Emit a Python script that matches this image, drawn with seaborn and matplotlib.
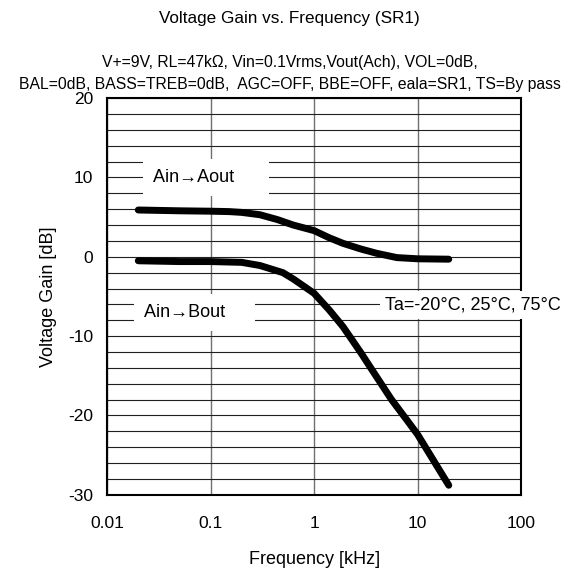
import numpy as np
import pandas as pd
import matplotlib
matplotlib.use("Agg")
import matplotlib.pyplot as plt
import seaborn as sns

sns.set_style("white")
plt.rcParams['font.family'] = ['Liberation Sans', 'DejaVu Sans']
plt.rcParams['axes.unicode_minus'] = False
plt.rcParams['text.color'] = 'black'
plt.rcParams['axes.labelcolor'] = 'black'
plt.rcParams['xtick.color'] = 'black'
plt.rcParams['ytick.color'] = 'black'

# values
freq_aout = [0.02, 0.05, 0.1, 0.15, 0.2, 0.3, 0.44, 0.63, 1.0, 1.4, 1.9, 2.8, 4.0, 6.3, 10, 20]
gain_aout = [5.9, 5.8, 5.75, 5.7, 5.6, 5.3, 4.7, 4.0, 3.3, 2.4, 1.7, 1.0, 0.45, -0.1, -0.25, -0.3]
freq_bout = [0.02, 0.05, 0.1, 0.2, 0.3, 0.5, 0.63, 1.0, 1.4, 1.9, 2.8, 4.0, 5.6, 7.9, 10, 20]
gain_bout = [-0.5, -0.6, -0.6, -0.7, -1.1, -2.0, -2.8, -4.6, -6.7, -8.8, -12.0, -15.1, -18.0, -20.6, -22.4, -28.8]

x_ticks = [0.01, 0.1, 1, 10, 100]
x_labels = ['0.01', '0.1', '1', '10', '100']
y_ticks = [-30, -20, -10, 0, 10, 20]

df = pd.concat([
    pd.DataFrame({'freq': freq_aout, 'gain': gain_aout, 'path': 'Ain→Aout'}),
    pd.DataFrame({'freq': freq_bout, 'gain': gain_bout, 'path': 'Ain→Bout'}),
])

fig = plt.figure(figsize=(5.79, 5.74), dpi=100)
ax = fig.add_axes([0.185, 0.138, 0.715, 0.691])

sns.lineplot(data=df, x='freq', y='gain', units='path', estimator=None,
             color='black', lw=5.0, ax=ax, legend=False, zorder=5)

ax.set_xscale('log')
ax.set_xlim(0.01, 100)
ax.set_ylim(-30, 20)
ax.set_xticks(x_ticks)
ax.set_xticklabels(x_labels)
ax.xaxis.set_minor_locator(matplotlib.ticker.NullLocator())
ax.set_yticks(y_ticks)
ax.set_yticks(np.arange(-30, 21, 2), minor=True)
ax.tick_params(axis='both', which='both', length=0, labelsize=12.5)
ax.tick_params(axis='x', pad=15)
ax.tick_params(axis='y', pad=10)

ax.grid(True, axis='y', which='both', color='#202020', lw=0.8)
ax.grid(True, axis='x', which='major', color='#707070', lw=1.0)
ax.set_axisbelow(True)
for s in ax.spines.values():
    s.set_color('black')
    s.set_linewidth(1.5)
    s.set_zorder(3)

ax.set_xlabel('Frequency [kHz]', fontsize=13, labelpad=15)
ax.set_ylabel('Voltage Gain [dB]', fontsize=13, labelpad=8)

box = dict(facecolor='white', edgecolor='none', boxstyle='square,pad=0.55')
ax.text(0.09, 10, 'Ain→Aout     ', fontsize=13, ha='center', va='center', bbox=box, zorder=4)
ax.text(0.07, -7, 'Ain→Bout    ', fontsize=13, ha='center', va='center', bbox=box, zorder=4)
ax.text(4.85, -6.1, 'Ta=-20°C, 25°C, 75°C', fontsize=13, ha='left', va='center',
        bbox=dict(facecolor='white', edgecolor='none', boxstyle='square,pad=0.3'),
        zorder=4, clip_on=False)

fig.text(0.5, 1 - 18 / 574, 'Voltage Gain vs. Frequency (SR1)', fontsize=12.3,
         ha='center', va='center')
fig.text(0.5, 1 - 62 / 574, 'V+=9V, RL=47kΩ, Vin=0.1Vrms,Vout(Ach), VOL=0dB,',
         fontsize=11.3, ha='center', va='center')
fig.text(0.5, 1 - 84 / 574, 'BAL=0dB, BASS=TREB=0dB,  AGC=OFF, BBE=OFF, eala=SR1, TS=By pass',
         fontsize=11.3, ha='center', va='center')

fig.savefig('out.png', dpi=100)
